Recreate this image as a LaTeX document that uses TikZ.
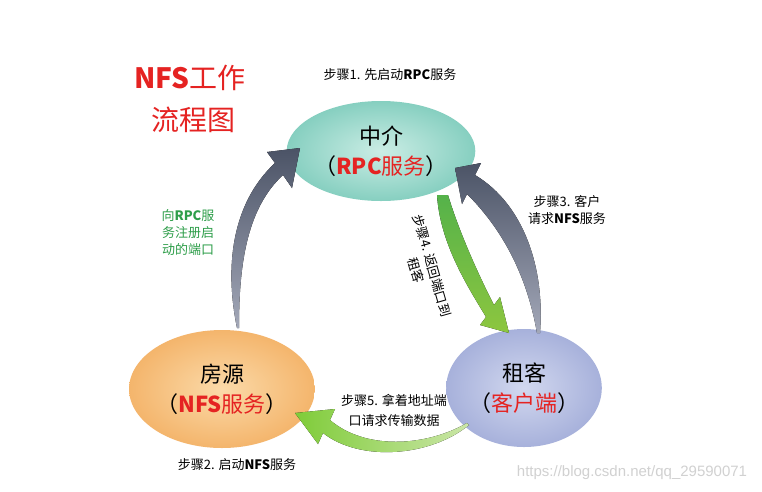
\documentclass[tikz,border=0pt]{standalone}
\usepackage{fontspec}
\setmainfont{Noto Sans CJK SC}
\newfontfamily\wmfont{Liberation Sans}
\usetikzlibrary{shapes.geometric}
\definecolor{tred}{HTML}{E52322}
\definecolor{tgreen}{HTML}{2E9E4A}
\definecolor{gdark}{HTML}{4B5366}
\definecolor{glight}{HTML}{A3A8B8}
\definecolor{grdark}{HTML}{55B24A}
\definecolor{grlight}{HTML}{8DC63F}
\definecolor{grpale}{HTML}{CBE6A8}
\definecolor{tealout}{HTML}{86CFC0}
\definecolor{tealin}{HTML}{CBEDE5}
\definecolor{orout}{HTML}{F4B56C}
\definecolor{orin}{HTML}{FBDAA9}
\definecolor{blout}{HTML}{A7B1DB}
\definecolor{blin}{HTML}{D2D8EF}
\begin{document}
\begin{tikzpicture}[x=1pt,y=-1pt,
  ell/.style={ellipse,inner sep=0pt,align=center,font=\fontsize{22}{30}\selectfont},
  steptext/.style={align=center,font=\fontsize{13}{17}\selectfont,inner sep=0pt},
  titletext/.style={text=tred,font=\fontsize{28}{34}\selectfont,inner sep=0pt}]
\useasboundingbox (0,0) rectangle (762,491);
\fill[white] (0,0) rectangle (762,491);
% ellipses
\node[ell,inner color=tealin,outer color=tealout,minimum width=160,minimum height=100] (zj) at (381,151)
  {中介\\（\textcolor{tred}{\textbf{RPC}服务}）};
\node[ell,inner color=orin,outer color=orout,minimum width=154,minimum height=118] (fy) at (222,389)
  {房源\\（\textcolor{tred}{\textbf{NFS}服务}）};
\node[ell,inner color=blin,outer color=blout,minimum width=138,minimum height=118] (zk) at (524,388)
  {租客\\（\textcolor{tred}{客户端}）};
% arrow 1: fangyuan -> zhongjie
\fill[top color=gdark,bottom color=glight]
  (237,328) .. controls (225,270) and (230,205) .. (275,163) -- (267,152) -- (300,148) -- (292,188) -- (283,175)
  .. controls (245,210) and (239,270) .. (239,328) -- cycle;
% arrow 2: zuke -> zhongjie
\fill[top color=gdark,bottom color=glight]
  (537,333) .. controls (525,265) and (495,222) .. (467,194) -- (462,204) -- (455,168) -- (481,163) -- (475,175)
  .. controls (525,205) and (545,270) .. (540,333) -- cycle;
% arrow 3: zhongjie -> zuke
\fill[top color=grdark,bottom color=grlight]
  (437,195) .. controls (440,245) and (470,290) .. (486,317) -- (480,325) -- (509,333) -- (500,297) -- (494,305)
  .. controls (482,282) and (460,235) .. (448,195) -- cycle;
% arrow 4: zuke -> fangyuan
\fill[left color=grlight!90!green,right color=grpale]
  (467,423) .. controls (425,447) and (365,450) .. (330,420) -- (335,409) -- (295,413) -- (318,444) -- (323,433)
  .. controls (360,462) and (430,457) .. (469,425) -- cycle;
% texts
\node[titletext] (t1) at (190,78) {\textbf{NFS}工作};
\node[titletext] (t2) at (193,120) {流程图};
\node[steptext] (s1) at (390,75) {步骤1. 先启动\textbf{RPC}服务};
\node[steptext,text=tgreen] (sg) at (188,233) {向\textbf{RPC}服\\务注册启\\动的端口};
\node[steptext] (s3) at (567,210) {步骤3. 客户\\请求\textbf{NFS}服务};
\node[steptext,rotate=-74] (s4) at (424,268) {步骤4. 返回端口到\\租客};
\node[steptext,font=\fontsize{13}{20}\selectfont] (s5) at (394,410) {步骤5. 拿着地址端\\口请求传输数据};
\node[steptext] (s2) at (237,465) {步骤2. 启动\textbf{NFS}服务};
\node[inner sep=0pt,text=black!18,font=\wmfont\fontsize{15}{18}\selectfont] (wm) at (632,473) {https://blog.csdn.net/qq\_29590071};
\end{tikzpicture}
\end{document}
